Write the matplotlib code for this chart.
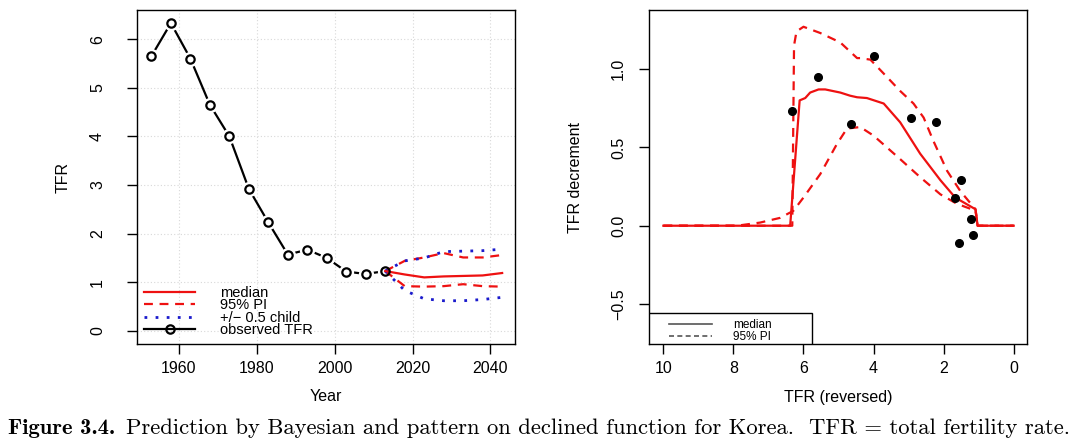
import matplotlib.pyplot as plt
from matplotlib.lines import Line2D
from matplotlib.patches import Rectangle

plt.rcParams['font.family'] = ['Liberation Sans', 'DejaVu Sans']

# left panel: observed and projected TFR for Korea
obs_years = [1953, 1958, 1963, 1968, 1973, 1978, 1983, 1988, 1993, 1998, 2003, 2008, 2013]
obs_tfr = [5.65, 6.33, 5.60, 4.65, 4.00, 2.92, 2.23, 1.57, 1.67, 1.50, 1.22, 1.17, 1.23]

proj_years = [2013, 2018, 2023, 2028, 2033, 2038, 2043]
proj_median = [1.23, 1.16, 1.10, 1.12, 1.13, 1.14, 1.19]
pi_upper = [1.23, 1.44, 1.51, 1.60, 1.51, 1.51, 1.56]
pi_lower = [1.23, 0.92, 0.91, 0.92, 0.96, 0.92, 0.91]
half_upper = [1.23, 1.44, 1.50, 1.63, 1.64, 1.65, 1.68]
half_lower = [1.23, 0.83, 0.66, 0.62, 0.62, 0.645, 0.69]

# right panel: decrement function vs TFR
dec_tfr = [6.33, 5.60, 4.65, 4.00, 2.92, 2.23, 1.57, 1.67, 1.50, 1.22, 1.17]
dec_obs = [0.73, 0.95, 0.65, 1.085, 0.69, 0.665, -0.11, 0.18, 0.29, 0.04, -0.06]

med_x = [10, 6.38, 6.11, 5.95, 5.81, 5.57, 5.38, 4.95, 4.67, 4.47, 4.19, 3.71,
         3.24, 2.67, 2.09, 1.67, 1.09, 1.03, 0]
med_y = [0, 0, 0.80, 0.815, 0.85, 0.87, 0.87, 0.85, 0.83, 0.82, 0.815, 0.78,
         0.66, 0.46, 0.29, 0.18, 0.105, 0, 0]

up_x = [10, 6.32, 6.27, 6.2, 6.0, 5.52, 4.95, 4.47, 4.38, 4.09, 3.62, 3.24,
        2.86, 2.57, 2.29, 1.90, 1.52, 1.09, 1.03, 0]
up_y = [0, 0, 1.15, 1.24, 1.27, 1.23, 1.17, 1.07, 1.07, 1.06, 0.95, 0.86,
        0.78, 0.69, 0.54, 0.35, 0.22, 0.105, 0, 0]

lo_x = [10, 7.9, 7.24, 6.67, 6.29, 6.0, 5.52, 5.05, 4.76, 4.38, 4.0, 3.24,
        2.67, 2.09, 1.62, 1.09, 1.03, 0]
lo_y = [0, 0, 0.02, 0.05, 0.095, 0.18, 0.33, 0.52, 0.62, 0.63, 0.575, 0.425,
        0.31, 0.20, 0.14, 0.096, 0, 0]

W, H = 1082, 444
fig = plt.figure(figsize=(W / 100, H / 100), dpi=100)


def box(x0, y0, x1, y1):
    return [x0 / W, 1 - y1 / H, (x1 - x0) / W, (y1 - y0) / H]


red = '#ee1111'
blue = '#1a1acc'
dash = (4, 3)

ax1 = fig.add_axes(box(137, 10, 515, 344))
ax1.set_xlim(1949.3, 2046.3)
ax1.set_ylim(-0.27, 6.6)
ax1.set_xticks([1960, 1980, 2000, 2020, 2040])
ax1.set_yticks(range(0, 7))
ax1.grid(True, color='#d8d8d8', linestyle=(0, (1, 2)), linewidth=0.8)
ax1.set_axisbelow(True)

# observed line with gaps around the points (R type="b")
ax1.plot(obs_years, obs_tfr, color='black', lw=1.6)
ax1.plot(obs_years, obs_tfr, 'o', ms=11, mfc='white', mec='white', mew=0)
ax1.plot(proj_years, pi_upper, color=red, lw=1.6, dashes=dash)
ax1.plot(proj_years, pi_lower, color=red, lw=1.6, dashes=dash)
ax1.plot(proj_years, half_upper, color=blue, lw=2, dashes=(1, 3))
ax1.plot(proj_years, half_lower, color=blue, lw=2, dashes=(1, 3))
ax1.plot(proj_years, proj_median, color=red, lw=1.6)
ax1.plot(obs_years, obs_tfr, 'o', ms=6, mfc='none', mec='black', mew=1.6)

handles = [
    Line2D([], [], color=red, lw=1.6),
    Line2D([], [], color=red, lw=1.6, dashes=dash),
    Line2D([], [], color=blue, lw=2, dashes=(1, 3)),
    Line2D([], [], color='black', lw=1.6, marker='o', ms=6, mfc='none', mew=1.6),
]
ax1.legend(handles, ['median', '95% PI', '+/\u2212 0.5 child', 'observed TFR'],
           loc='lower left', bbox_to_anchor=(0.0185, 0.02), frameon=False,
           fontsize=10.5, handlelength=3.5, handletextpad=1.7, labelspacing=-0.1,
           borderpad=0, borderaxespad=0)

ax2 = fig.add_axes(box(649, 10, 1027, 344))
ax2.set_xlim(10.41, -0.38)
ax2.set_ylim(-0.755, 1.377)
ax2.set_xticks([10, 8, 6, 4, 2, 0])
ax2.set_yticks([-0.5, 0.0, 0.5, 1.0])
ax2.set_yticklabels(['\u22120.5', '0.0', '0.5', '1.0'])

ax2.plot(up_x, up_y, color=red, lw=1.6, dashes=dash)
ax2.plot(lo_x, lo_y, color=red, lw=1.6, dashes=dash)
ax2.plot(med_x, med_y, color=red, lw=1.6)
ax2.plot(dec_tfr, dec_obs, 'o', color='black', ms=5.5)

ax2.add_patch(Rectangle((0, 0), 0.431, 0.093, transform=ax2.transAxes,
                        facecolor='white', edgecolor='black', lw=1, zorder=3))
h2 = [Line2D([], [], color='#555555', lw=1.2),
      Line2D([], [], color='#555555', lw=1.2, dashes=(3, 2))]
leg2 = ax2.legend(h2, ['median', '95% PI'], loc='lower left',
                  bbox_to_anchor=(0.053, 0.004), frameon=False, fontsize=8.5,
                  handlelength=3.6, handletextpad=1.8, labelspacing=0.0,
                  borderpad=0, borderaxespad=0)
leg2.set_zorder(4)

for ax, ypad in ((ax1, 16), (ax2, 9.5)):
    for s in ax.spines.values():
        s.set_linewidth(1.0)
    ax.tick_params(axis='both', direction='out', length=7, width=1, labelsize=11.5)
    ax.tick_params(axis='x', pad=5.5)
    ax.tick_params(axis='y', pad=ypad)
    for lab in ax.get_yticklabels():
        lab.set_rotation(90)
        lab.set_va('center')

fig.text(63 / W, 1 - 177 / H, 'TFR', rotation=90, ha='center', va='center', fontsize=11.5)
fig.text(575 / W, 1 - 177 / H, 'TFR decrement', rotation=90, ha='center', va='center', fontsize=11.5)
fig.text(326 / W, 1 - 396 / H, 'Year', ha='center', va='center', fontsize=11.5)
fig.text(838 / W, 1 - 397 / H, 'TFR (reversed)', ha='center', va='center', fontsize=11.5)

cap_y = 1 - 428 / H
t1 = fig.text(8 / W, cap_y, 'Figure 3.4.', ha='left', va='center', fontsize=16.3,
              family=['cmb10', 'DejaVu Serif'])
fig.canvas.draw()
bb = t1.get_window_extent()
fig.text((bb.x1 + 11) / W, cap_y,
         'Prediction by Bayesian and pattern on declined function for Korea.  '
         'TFR = total fertility rate.',
         ha='left', va='center', fontsize=16.3, family=['cmr10', 'DejaVu Serif'])

fig.savefig('out.png', dpi=100)
